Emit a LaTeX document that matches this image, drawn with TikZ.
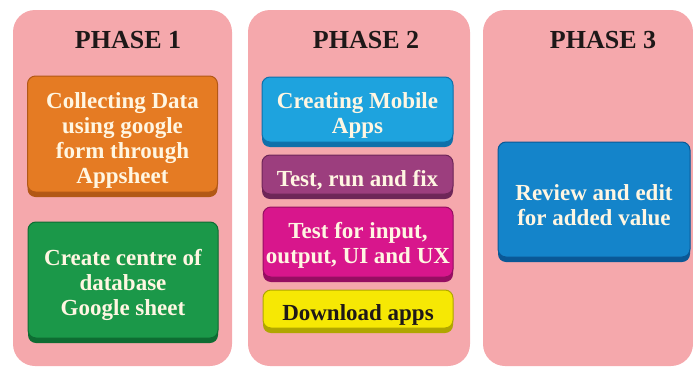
\documentclass[tikz,border=0pt]{standalone}
\usepackage{fontspec}
\setmainfont{Liberation Serif}
\definecolor{panelpink}{RGB}{245,168,172}
\definecolor{orangeM}{RGB}{229,123,35}
\definecolor{orangeD}{RGB}{178,88,22}
\definecolor{greenM}{RGB}{27,152,73}
\definecolor{greenD}{RGB}{14,108,50}
\definecolor{blueM}{RGB}{30,163,222}
\definecolor{blueD}{RGB}{16,112,170}
\definecolor{purpleM}{RGB}{156,62,126}
\definecolor{purpleD}{RGB}{110,38,88}
\definecolor{magM}{RGB}{216,22,140}
\definecolor{magD}{RGB}{150,14,98}
\definecolor{yelM}{RGB}{246,232,4}
\definecolor{yelD}{RGB}{176,166,0}
\definecolor{dblueM}{RGB}{20,132,202}
\definecolor{dblueD}{RGB}{10,88,150}
\definecolor{cream}{RGB}{255,246,226}
\definecolor{titlec}{RGB}{30,24,24}
\tikzset{
  panel/.style={fill=panelpink, draw=none, rounded corners=22pt},
  title/.style={font=\fontsize{26}{28}\selectfont\bfseries, text=titlec},
  ptile/.style 2 args={rounded corners=8pt, inner sep=0pt, fill=#1, draw=#2, line width=1pt,
    preaction={fill=#2, transform canvas={yshift=-5pt}}},
  lbl/.style={align=center, inner sep=0pt, font=\fontsize{23}{25}\selectfont\bfseries}
}
\begin{document}
\begin{tikzpicture}[x=1pt,y=-1pt]
\useasboundingbox (0,0) rectangle (693,367);
% panels
\fill[panel] (13,10) rectangle (232,366);
\fill[panel] (248,10) rectangle (470,366);
\fill[panel] (483,10) rectangle (693,366);
% titles
\node[title] (t1) at (128,40) {PHASE 1};
\node[title] (t2) at (366,40) {PHASE 2};
\node[title] (t3) at (603,40) {PHASE 3};
% phase 1 boxes
\node[ptile={orangeM}{orangeD}, minimum width=190pt, minimum height=116pt] (b1) at (122.5,134) {};
\node[lbl, text=cream] (b1t) at ([yshift=-6pt]b1.center) {Collecting Data\\using google\\form through\\Appsheet};
\node[ptile={greenM}{greenD}, minimum width=190pt, minimum height=116pt] (b2) at (123,280) {};
\node[lbl, text=cream] (b2t) at ([yshift=-5pt]b2.center) {Create centre of\\database\\Google sheet};
% phase 2 boxes
\node[ptile={blueM}{blueD}, minimum width=191pt, minimum height=65pt] (b3) at (357.5,109.5) {};
\node[lbl, text=cream] (b3t) at ([yshift=-6pt]b3.center) {Creating Mobile\\Apps};
\node[ptile={purpleM}{purpleD}, minimum width=191pt, minimum height=39pt] (b4) at (357.5,174.5) {};
\node[lbl, text=cream] (b4t) at ([yshift=-6pt]b4.center) {Test, run and fix};
\node[ptile={magM}{magD}, minimum width=190pt, minimum height=70pt] (b5) at (358,242) {};
\node[lbl, text=cream] (b5t) at ([yshift=-3pt]b5.center) {Test for input,\\output, UI and UX};
\node[ptile={yelM}{yelD}, minimum width=190pt, minimum height=38pt] (b6) at (358,309) {};
\node[lbl, text=titlec] (b6t) at ([yshift=-6pt]b6.center) {Download apps};
% phase 3 box
\node[ptile={dblueM}{dblueD}, minimum width=192pt, minimum height=115pt] (b7) at (594,199.5) {};
\node[lbl, text=cream] (b7t) at ([yshift=-6pt]b7.center) {Review and edit\\for added value};
\end{tikzpicture}
\end{document}
